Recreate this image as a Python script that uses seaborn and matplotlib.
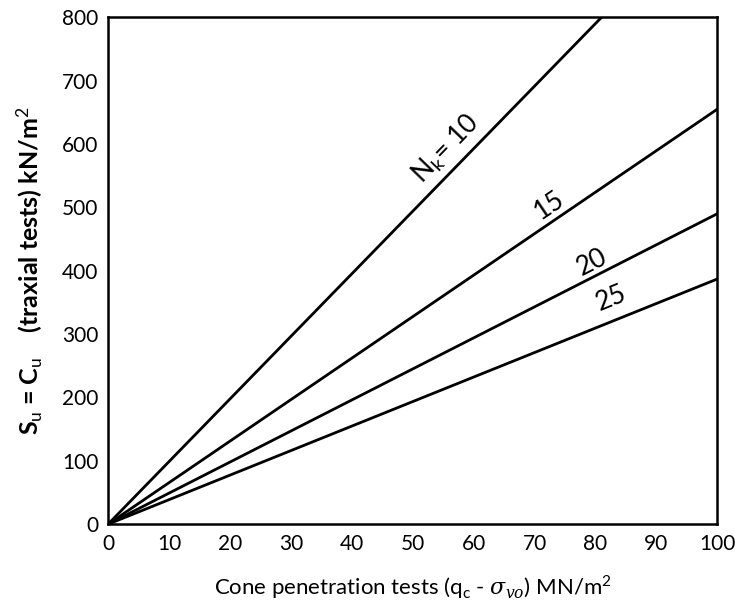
import matplotlib
matplotlib.use("Agg")
import matplotlib.pyplot as plt
import seaborn as sns
import pandas as pd

# Data: each line starts at the origin
nk_labels = ["N$_\\mathsf{k}$= 10", "15", "20", "25"]
x_start = [0, 0, 0, 0]
y_start = [0, 0, 0, 0]
x_end = [81, 100, 100, 100]
y_end = [800, 655, 490, 387]

x_ticks = [0, 10, 20, 30, 40, 50, 60, 70, 80, 90, 100]
y_ticks = [0, 100, 200, 300, 400, 500, 600, 700, 800]

rows = []
for lab, xs, ys, xe, ye in zip(nk_labels, x_start, y_start, x_end, y_end):
    rows.append({"Nk": lab, "x": xs, "y": ys})
    rows.append({"Nk": lab, "x": xe, "y": ye})
df = pd.DataFrame(rows)

sns.set_style("white")
plt.rcParams["font.family"] = ["Lato", "DejaVu Sans"]
plt.rcParams["mathtext.fontset"] = "custom"
plt.rcParams["mathtext.rm"] = "Lato"
plt.rcParams["mathtext.sf"] = "Lato"
plt.rcParams["mathtext.it"] = "DejaVu Serif:italic"
plt.rcParams["text.color"] = "black"
plt.rcParams["xtick.color"] = "black"
plt.rcParams["ytick.color"] = "black"
plt.rcParams["axes.labelcolor"] = "black"

fig = plt.figure(figsize=(7.35, 6.16), dpi=100)
ax = fig.add_axes([0.147, 0.149, 0.829, 0.823])

sns.lineplot(data=df, x="x", y="y", units="Nk", estimator=None,
             color="black", linewidth=2.0, ax=ax, legend=False)

ax.set_xlim(0, 100)
ax.set_ylim(0, 800)
ax.set_xticks(x_ticks)
ax.set_yticks(y_ticks)
ax.tick_params(axis="both", length=0, labelsize=15, pad=7)
for s in ax.spines.values():
    s.set_visible(True)
    s.set_color("black")
    s.set_linewidth(1.8)

ax.set_xlabel(r"Cone penetration tests (q$_\mathsf{c}$ - $\sigma_{vo}$) MN/m$^2$",
              fontsize=16, labelpad=14)
ax.set_ylabel(r"S$_\mathsf{u}$ = C$_\mathsf{u}$    (traxial tests) kN/m$^2$",
              fontsize=18, fontweight="bold", labelpad=12)

# Line labels placed along each line
label_pos = [(55.5, 592, 46), (72.5, 503, 34), (79.5, 413, 27), (82.5, 356, 22)]
for lab, (lx, ly, rot) in zip(nk_labels, label_pos):
    ax.text(lx, ly, lab, rotation=rot, ha="center", va="center",
            fontsize=19, rotation_mode="anchor")

fig.savefig("out.png", dpi=100, facecolor="white")
